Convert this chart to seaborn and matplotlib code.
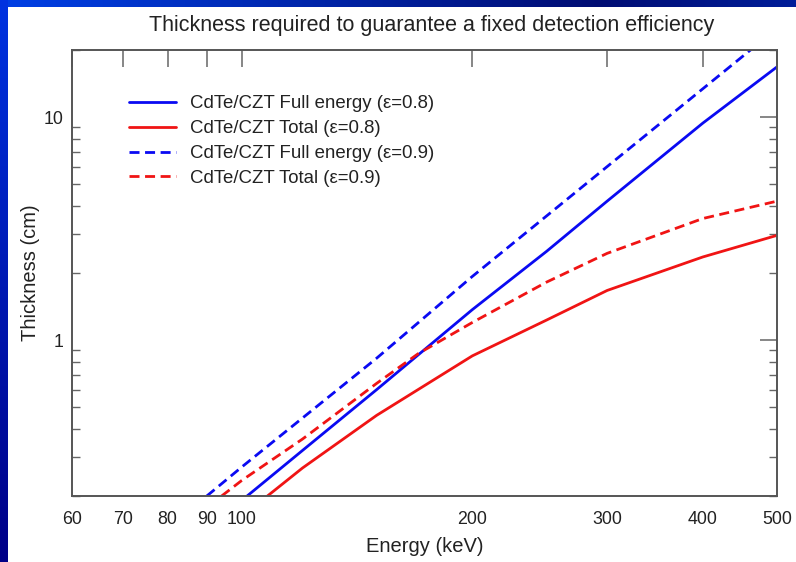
import numpy as np
import pandas as pd
import matplotlib
matplotlib.use("Agg")
import matplotlib.pyplot as plt
import seaborn as sns
from matplotlib.ticker import FixedLocator, NullLocator, LogLocator, NullFormatter, FixedFormatter

# ---- data ----
full08_E = [101.6, 120, 150, 200, 250, 300, 400, 500]
full08_T = [0.20, 0.32, 0.60, 1.37, 2.50, 4.20, 9.40, 16.8]

total08_E = [108, 120, 150, 200, 250, 300, 400, 500]
total08_T = [0.20, 0.267, 0.46, 0.85, 1.23, 1.67, 2.36, 2.95]

full09_E = [90, 100, 150, 200, 300, 400, 500]
full09_T = [0.20, 0.27, 0.83, 1.93, 6.0, 13.4, 25.0]

total09_E = [94.1, 100, 120, 150, 170, 200, 250, 300, 400, 500]
total09_T = [0.20, 0.235, 0.36, 0.64, 0.87, 1.20, 1.82, 2.45, 3.51, 4.20]

labels = ["CdTe/CZT Full energy (ε=0.8)", "CdTe/CZT Total (ε=0.8)",
          "CdTe/CZT Full energy (ε=0.9)", "CdTe/CZT Total (ε=0.9)"]
x_ticks = [60, 70, 80, 90, 100, 200, 300, 400, 500]
x_ticklabels = ["60", "70", "80", "90", "100", "200", "300", "400", "500"]
y_ticks = [1, 10]
y_ticklabels = ["1", "10"]

title = "Thickness required to guarantee a fixed detection efficiency"
xlabel = "Energy (keV)"
ylabel = "Thickness (cm)"

# ---- style ----
sns.set_style("white")
plt.rcParams['font.family'] = ['Liberation Sans', 'DejaVu Sans']

W, H = 796, 562
fig = plt.figure(figsize=(W / 100, H / 100), dpi=100)

# slide background: blue gradient frame on top and left
bg = fig.add_axes([0, 0, 1, 1], zorder=-10)
img = np.ones((H, W, 3))
xs = np.linspace(0, 1, W)
top_fac = np.abs(xs - 0.75) / 0.75
top_col = np.stack([0.0 * top_fac, 0.05 + 0.2 * top_fac, 0.45 + 0.45 * top_fac], axis=1)
img[:7, :, :] = top_col[None, :, :]
ys = np.linspace(0, 1, H)
left_col = np.stack([0.0 * ys, 0.2 * (1 - ys), 0.88 - 0.35 * ys], axis=1)
img[:, :8, :] = left_col[:, None, :]
bg.imshow(img, aspect="auto", extent=[0, 1, 0, 1], origin="upper")
bg.set_axis_off()

ax = fig.add_axes([72 / W, 1 - 496 / H, (777 - 72) / W, (496 - 50) / H])

blue = "#0a0af2"
red = "#f01414"
dash = (0, (3.6, 2.0))
series = [
    (full08_E, full08_T, labels[0], blue, "-"),
    (total08_E, total08_T, labels[1], red, "-"),
    (full09_E, full09_T, labels[2], blue, dash),
    (total09_E, total09_T, labels[3], red, dash),
]
for E, T, lab, col, ls in series:
    df = pd.DataFrame({"E": E, "T": T})
    sns.lineplot(data=df, x="E", y="T", ax=ax, color=col, linewidth=2.0,
                 linestyle=ls, label=lab, sort=True)

ax.set_xscale("log")
ax.set_yscale("log")
ax.set_xlim(60, 500)
ax.set_ylim(0.2, 20)

ax.xaxis.set_major_locator(FixedLocator(x_ticks))
ax.xaxis.set_major_formatter(FixedFormatter(x_ticklabels))
ax.xaxis.set_minor_locator(NullLocator())
ax.xaxis.set_minor_formatter(NullFormatter())
ax.yaxis.set_major_locator(FixedLocator(y_ticks))
ax.yaxis.set_major_formatter(FixedFormatter(y_ticklabels))
ax.yaxis.set_minor_locator(LogLocator(base=10, subs=np.arange(2, 10), numticks=20))
ax.yaxis.set_minor_formatter(NullFormatter())

spine_col = "#555555"
for s in ax.spines.values():
    s.set_color(spine_col)
    s.set_linewidth(1.4)
ax.tick_params(axis="both", which="major", direction="in", length=12.5, width=1.1,
               color="#666666", top=True, right=True, labelsize=12.8,
               labelcolor="#222222")
ax.tick_params(axis="x", which="major", pad=11)
ax.tick_params(axis="y", which="major", pad=6)
ax.tick_params(axis="y", which="minor", direction="in", length=6, width=1.0,
               color="#666666", left=True, right=True)

ax.set_xlabel(xlabel, fontsize=14.5, color="#222222", labelpad=6)
ax.set_ylabel(ylabel, fontsize=14.5, color="#222222", labelpad=3)
ax.set_title(title, fontsize=15.5, color="#222222", pad=14,
             x=(432 - 72) / (777 - 72))

leg = ax.legend(loc="upper left", bbox_to_anchor=(0.071, 0.915), frameon=False,
                fontsize=13.4, handlelength=2.5, handletextpad=0.75,
                labelspacing=0.42, borderaxespad=0)
for t in leg.get_texts():
    t.set_color("#222222")

fig.savefig("out.png", dpi=100)
